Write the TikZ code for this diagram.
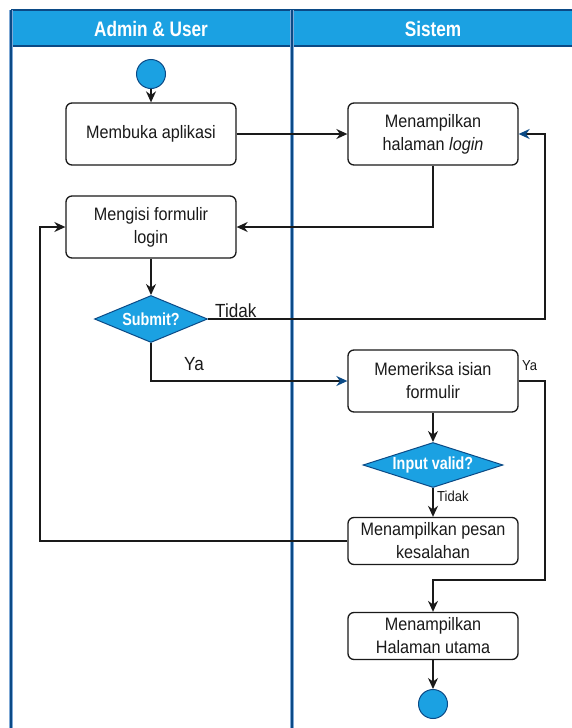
\documentclass[tikz,border=0pt]{standalone}
\usepackage{fontspec}
\setmainfont[FakeStretch=0.9]{Liberation Sans}
\newfontfamily\headfont[FakeStretch=0.82]{Liberation Sans}
\usetikzlibrary{shapes.geometric,arrows.meta}
\definecolor{lanefill}{HTML}{1BA1E2}
\definecolor{laneline}{HTML}{0B4A86}
\definecolor{lanehalo}{HTML}{7FA9D6}
\definecolor{ink}{HTML}{1A1A1A}
\begin{document}
\begin{tikzpicture}[x=1pt,y=-1pt,
  stepbox/.style={draw=ink, line width=1.3pt, rounded corners=6pt, fill=white,
    minimum width=170pt, minimum height=62pt, align=center, text=ink,
    font=\fontsize{18}{23}\selectfont},
  lowbox/.style={stepbox, minimum height=47pt},
  decide/.style={diamond, draw=laneline, line width=1pt, fill=lanefill, text=white,
    inner sep=0pt, shape aspect=3, font=\headfont\fontsize{17.5}{19}\selectfont\bfseries},
  terminal/.style={circle, draw=laneline, line width=1pt, fill=lanefill, minimum size=29pt, inner sep=0pt},
  flow/.style={draw=ink, line width=1.4pt, -{Stealth[length=11pt,width=10pt]}},
  blueflow/.style={draw=ink, line width=1.4pt, -{Stealth[length=11pt,width=10pt,color=laneline]}},
  lbl/.style={text=ink, font=\fontsize{19}{21}\selectfont, inner sep=0pt},
  smalllbl/.style={text=ink, font=\fontsize{14.5}{16}\selectfont, inner sep=0pt},
  headtxt/.style={text=white, font=\headfont\bfseries\fontsize{21}{23}\selectfont}]
\useasboundingbox (0,0) rectangle (571,728);
\fill[white] (0,0) rectangle (571,728);

% swimlane frame
\fill[lanefill] (11,10) rectangle (580,46);
\draw[laneline, line width=1.2pt] (11,10) -- (580,10);
\draw[laneline, line width=1.5pt] (11,46) -- (580,46);
\draw[lanehalo, line width=3.5pt] (11,10) -- (11,728);
\draw[laneline, line width=1.5pt] (11,10) -- (11,728);
\draw[lanehalo, line width=4pt] (292,10) -- (292,728);
\draw[laneline, line width=2.5pt] (292,10) -- (292,728);
\node[headtxt] (hdA) at (151,29) {Admin \& User};
\node[headtxt] (hdS) at (433,29) {Sistem};

% activities
\node[terminal] (start) at (151,74) {};
\node[stepbox] (open) at (151,134) {Membuka aplikasi};
\node[stepbox] (login) at (433,134) {Menampilkan\\halaman \textit{login}};
\node[stepbox] (fill) at (151,227) {Mengisi formulir\\login};
\node[decide, minimum width=113pt, minimum height=47pt] (submit) at (151,319) {Submit?};
\node[stepbox] (check) at (433,381) {Memeriksa isian\\formulir};
\node[decide, minimum width=140pt, minimum height=45pt] (valid) at (433,465) {Input valid?};
\node[lowbox] (error) at (433,541) {Menampilkan pesan\\kesalahan};
\node[lowbox] (home) at (433,636) {Menampilkan\\Halaman utama};
\node[terminal] (stop) at (433,704) {};

% helper corners
\coordinate (backR) at (545,134);
\coordinate (backL) at (40,227);
\coordinate (okTurn) at (545,580);

% connectors
\draw[flow] (start) -- (open);
\draw[flow] (open) -- (login);
\draw[flow] (login.south) |- (fill.east);
\draw[flow] (fill) -- (submit);
\draw[blueflow] (submit.east) -| (backR) -- (login.east);
\draw[blueflow] (submit.south) |- (check.west);
\draw[flow] (check) -- (valid);
\draw[flow] (valid) -- (error);
\draw[flow] (error.west) -| (backL) -- (fill.west);
\draw[flow] (check.east) -| (okTurn) -| (home.north);
\draw[flow] (home) -- (stop);

% branch labels
\node[lbl, anchor=south west] (tTidak) at (215,318) {Tidak};
\node[lbl, anchor=west] (tYa) at (184,364) {Ya};
\node[smalllbl, anchor=west] (tYa2) at (522,366) {Ya};
\node[smalllbl, anchor=west] (tTidak2) at (437,496) {Tidak};
\end{tikzpicture}
\end{document}
